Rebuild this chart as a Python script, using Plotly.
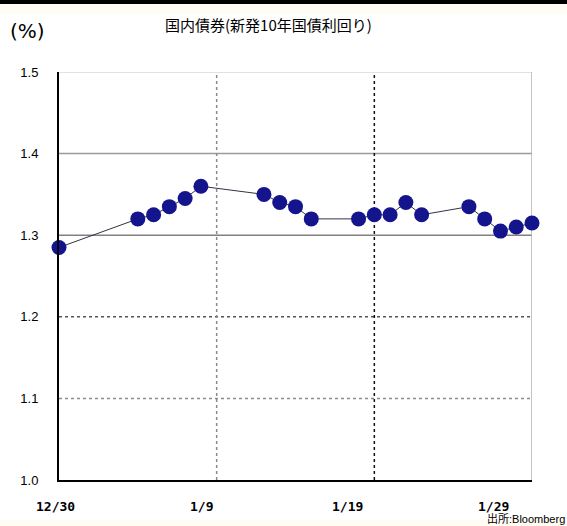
import plotly.graph_objects as go

# ---- data ----
dates = ["2009-12-30", "2010-01-04", "2010-01-05", "2010-01-06", "2010-01-07", "2010-01-08",
         "2010-01-12", "2010-01-13", "2010-01-14", "2010-01-15",
         "2010-01-18", "2010-01-19", "2010-01-20", "2010-01-21", "2010-01-22",
         "2010-01-25", "2010-01-26", "2010-01-27", "2010-01-28", "2010-01-29"]
yields = [1.285, 1.32, 1.325, 1.335, 1.345, 1.36,
          1.35, 1.34, 1.335, 1.32,
          1.32, 1.325, 1.325, 1.34, 1.325,
          1.335, 1.32, 1.305, 1.31, 1.315]
x_tick_dates = ["2009-12-30", "2010-01-09", "2010-01-19", "2010-01-29"]
x_tick_labels = ["12/30", "1/9", "1/19", "1/29"]
y_ticks = [1.0, 1.1, 1.2, 1.3, 1.4, 1.5]
title_text = "国内債券(新発10年国債利回り)"
unit_text = "(%)"
source_text = "出所:Bloomberg"

# ---- styles ----
x_label_shift = [-4, -15, -27, -39]
hgrid_style = {1.5: ("#c4c4c4", 1, "solid"), 1.4: ("#9a9a9a", 1.5, "solid"),
               1.3: ("#808080", 1.5, "solid"), 1.2: ("#555555", 1.5, "dot"),
               1.1: ("#8a8a8a", 1.5, "dot")}
vgrid_style = {"2010-01-09": ("#8a8a8a", 1.5, "dot"), "2010-01-19": ("#111111", 1.5, "dot"),
               "2010-01-29": ("#b0b0b0", 1.5, "solid")}

fig = go.Figure()
fig.add_trace(go.Scatter(
    x=dates, y=yields, mode="lines+markers",
    line=dict(color="#333344", width=1),
    marker=dict(size=15, color="#14148c"),
    cliponaxis=False, showlegend=False,
))

shapes = []
for v, (c, w, d) in hgrid_style.items():
    shapes.append(dict(type="line", xref="paper", yref="y", x0=0, x1=1, y0=v, y1=v,
                       line=dict(color=c, width=w, dash=d), layer="below"))
for v, (c, w, d) in vgrid_style.items():
    shapes.append(dict(type="line", xref="x", yref="paper", x0=v, x1=v, y0=0, y1=1,
                       line=dict(color=c, width=w, dash=d), layer="below"))
# top black bar and light cream strips
shapes.append(dict(type="rect", xref="paper", yref="paper", x0=-0.2, x1=1.2,
                   y0=1 + (72 - 4) / 408, y1=1.3, fillcolor="#000000", line=dict(width=0)))
shapes.append(dict(type="rect", xref="paper", yref="paper", x0=-0.2, x1=1.2,
                   y0=1 + (72 - 14) / 408, y1=1 + (72 - 4) / 408, fillcolor="#fffdf6",
                   line=dict(width=0), layer="below"))
shapes.append(dict(type="rect", xref="paper", yref="paper", x0=-0.2, x1=1.2,
                   y0=-0.2, y1=-(520 - 480) / 408, fillcolor="#fffcf2",
                   line=dict(width=0), layer="below"))

annotations = []
for d, lab, sh in zip(x_tick_dates, x_tick_labels, x_label_shift):
    annotations.append(dict(x=d, xref="x", y=0, yref="paper", yshift=-26, xshift=sh,
                            text=lab, showarrow=False, xanchor="center", yanchor="middle",
                            borderpad=0,
                            font=dict(family="DejaVu Sans Mono", size=13, color="#000000",
                                      weight="bold")))
annotations.append(dict(x=(268 - 59) / 473, xref="paper", y=1 + (72 - 25) / 408, yref="paper",
                        text=title_text, showarrow=False, xanchor="center", yanchor="middle",
                        font=dict(family="Noto Sans CJK JP", size=15, color="#000000")))
annotations.append(dict(x=(28 - 59) / 473, xref="paper", y=1 + (72 - 31) / 408, yref="paper",
                        text=unit_text, showarrow=False, xanchor="center", yanchor="middle",
                        font=dict(family="DejaVu Sans", size=20, color="#000000")))
annotations.append(dict(x=(566 - 59) / 473, xref="paper", y=0, yref="paper", yshift=-46,
                        text=source_text, showarrow=False, xanchor="right", yanchor="bottom",
                        borderpad=0,
                        font=dict(family="Liberation Sans, Noto Sans CJK JP", size=11,
                                  color="#000000")))

fig.update_layout(
    width=567, height=526,
    margin=dict(l=59, r=35, t=72, b=46),
    paper_bgcolor="#ffffff", plot_bgcolor="#ffffff",
    shapes=shapes, annotations=annotations,
    xaxis=dict(type="date", range=["2009-12-30", "2010-01-29"], showgrid=False,
               showticklabels=False, ticks="", zeroline=False,
               showline=True, linecolor="#000000", linewidth=2),
    yaxis=dict(range=[1.0, 1.5], tickvals=y_ticks, ticktext=[f"{v:.1f}" for v in y_ticks],
               showgrid=False, zeroline=False, ticks="", ticklabelstandoff=16,
               showline=True, linecolor="#000000", linewidth=2,
               tickfont=dict(family="Liberation Sans", size=13, color="#000000")),
)

fig.write_html("out.html")
